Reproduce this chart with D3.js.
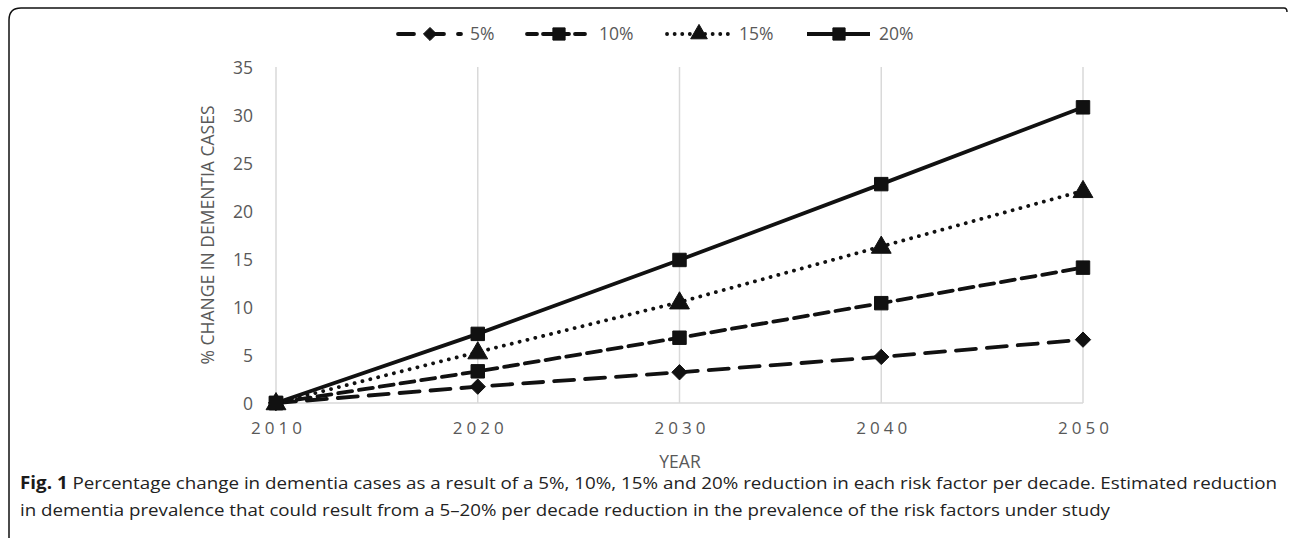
<!DOCTYPE html>
<html><head><meta charset="utf-8">
<script src="https://cdn.jsdelivr.net/npm/d3@7"></script>
<style>body{margin:0;background:#fff}svg{display:block}</style>
</head><body>
<script>
const years = [2010, 2020, 2030, 2040, 2050];
const seriesNames = ["5%", "10%", "15%", "20%"];
const s5 = [0, 1.7, 3.2, 4.8, 6.6];
const s10 = [0, 3.3, 6.8, 10.4, 14.1];
const s15 = [0, 5.3, 10.5, 16.3, 22.1];
const s20 = [0, 7.2, 14.9, 22.8, 30.8];
const yTicks = [0, 5, 10, 15, 20, 25, 30, 35];
const yTitle = "% CHANGE IN DEMENTIA CASES";
const xTitle = "YEAR";
const captionBold = "Fig. 1";
const captionLine1 = " Percentage change in dementia cases as a result of a 5%, 10%, 15% and 20% reduction in each risk factor per decade. Estimated reduction";
const captionLine2 = "in dementia prevalence that could result from a 5–20% per decade reduction in the prevalence of the risk factors under study";

const W = 1290, H = 538;
const svg = d3.select("body").append("svg").attr("width", W).attr("height", H);

// frame
svg.append("path")
  .attr("d", "M9,538 L9,20 Q9,8 21,8 L1284,8 Q1287,8 1287,12")
  .attr("fill", "none").attr("stroke", "#111").attr("stroke-width", 1.5);

const x = d3.scalePoint().domain(years).range([276, 1083]);
const y = d3.scaleLinear().domain([0, 35]).range([403, 67]);

// vertical gridlines
svg.append("g").selectAll("line").data(years).join("line")
  .attr("x1", d => x(d)).attr("x2", d => x(d))
  .attr("y1", y(35)).attr("y2", y(0))
  .attr("stroke", "#d9d9d9").attr("stroke-width", 1.5);
svg.append("line").attr("x1", x(2010)).attr("x2", x(2050))
  .attr("y1", y(0)).attr("y2", y(0)).attr("stroke", "#d9d9d9").attr("stroke-width", 1.5);

const tickFont = "'Open Sans', 'Noto Sans', sans-serif";
const yAxis = d3.axisLeft(y).tickValues(yTicks).tickSize(0).tickPadding(0);
const gy = svg.append("g").attr("transform", "translate(253,0)").call(yAxis);
gy.select(".domain").remove();
gy.selectAll("text").attr("font-family", tickFont).attr("font-size", 17.5).attr("fill", "#595959").attr("dy", "0.35em");

const xAxis = d3.axisBottom(x).tickSize(0).tickPadding(0).tickFormat(d => String(d));
const gx = svg.append("g").attr("transform", "translate(0,428)").call(xAxis);
gx.select(".domain").remove();
gx.selectAll("text").attr("font-family", tickFont).attr("font-size", 17).attr("fill", "#595959")
  .attr("letter-spacing", "4px").attr("dy", "0.35em").attr("dx", "2px");

svg.append("text").attr("transform", "translate(214,235) rotate(-90)")
  .attr("text-anchor", "middle").attr("font-family", tickFont).attr("font-size", 17.5)
  .attr("fill", "#595959").text(yTitle);
svg.append("text").attr("x", 680).attr("y", 468).attr("text-anchor", "middle")
  .attr("font-family", tickFont).attr("font-size", 17.5).attr("fill", "#595959").text(xTitle);

const series = [
  {name: seriesNames[0], values: s5, dash: "20,11", cap: "round", marker: "diamond"},
  {name: seriesNames[1], values: s10, dash: "14,7", cap: "round", marker: "square"},
  {name: seriesNames[2], values: s15, dash: "0.1,8", cap: "round", marker: "triangle"},
  {name: seriesNames[3], values: s20, dash: null, cap: "butt", marker: "square"}
];
const sym = {
  diamond: d3.symbol().type(d3.symbolDiamond2).size(150),
  square: d3.symbol().type(d3.symbolSquare2).size(230),
  triangle: d3.symbol().type(d3.symbolTriangle).size(170)
};
const symLeg = {
  diamond: d3.symbol().type(d3.symbolDiamond2).size(110),
  square: d3.symbol().type(d3.symbolSquare2).size(190),
  triangle: d3.symbol().type(d3.symbolTriangle).size(120)
};
const line = d3.line().x((d, i) => x(years[i])).y(d => y(d));
const col = "#111";

series.forEach(s => {
  svg.append("path").datum(s.values).attr("d", line)
    .attr("fill", "none").attr("stroke", col).attr("stroke-width", 3.8)
    .attr("stroke-dasharray", s.dash).attr("stroke-linecap", s.cap);
});
series.forEach(s => {
  svg.append("g").selectAll("path").data(s.values).join("path")
    .attr("transform", (d, i) => `translate(${x(years[i])},${y(d) + (s.marker === "triangle" ? 1 : 0)})`)
    .attr("d", sym[s.marker]).attr("fill", col).attr("stroke", col).attr("stroke-width", 1);
});

// legend
const legX = [397, 526, 666, 806];
const legDash = ["16,14", "10,6", "0.1,7.5", null];
const legY = 34;
series.forEach((s, i) => {
  const g = svg.append("g").attr("transform", `translate(${legX[i]},${legY})`);
  g.append("line").attr("x1", 1).attr("x2", 64).attr("y1", 0).attr("y2", 0)
    .attr("stroke", col).attr("stroke-width", 3.8)
    .attr("stroke-dasharray", legDash[i])
    .attr("stroke-linecap", s.cap);
  g.append("path").attr("transform", `translate(33,${s.marker === "triangle" ? 0 : 0})`).attr("d", symLeg[s.marker])
    .attr("fill", col).attr("stroke", col);
  g.append("text").attr("x", 73).attr("y", 0).attr("dy", "0.35em")
    .attr("font-family", tickFont).attr("font-size", 17.5).attr("fill", "#595959").text(s.name);
});

// caption
const capFont = "'Open Sans', 'Noto Sans', sans-serif";
const t1 = svg.append("text").attr("x", 20).attr("y", 489).attr("font-family", capFont)
  .attr("font-size", 17).attr("fill", "#222");
t1.append("tspan").attr("font-weight", "bold").attr("fill", "#1a1a1a").text(captionBold);
t1.append("tspan").text(captionLine1);
t1.attr("textLength", 1257).attr("lengthAdjust", "spacingAndGlyphs");
svg.append("text").attr("x", 20).attr("y", 516).attr("font-family", capFont)
  .attr("font-size", 17).attr("fill", "#222").text(captionLine2)
  .attr("textLength", 1090).attr("lengthAdjust", "spacingAndGlyphs");
</script>
</body></html>
